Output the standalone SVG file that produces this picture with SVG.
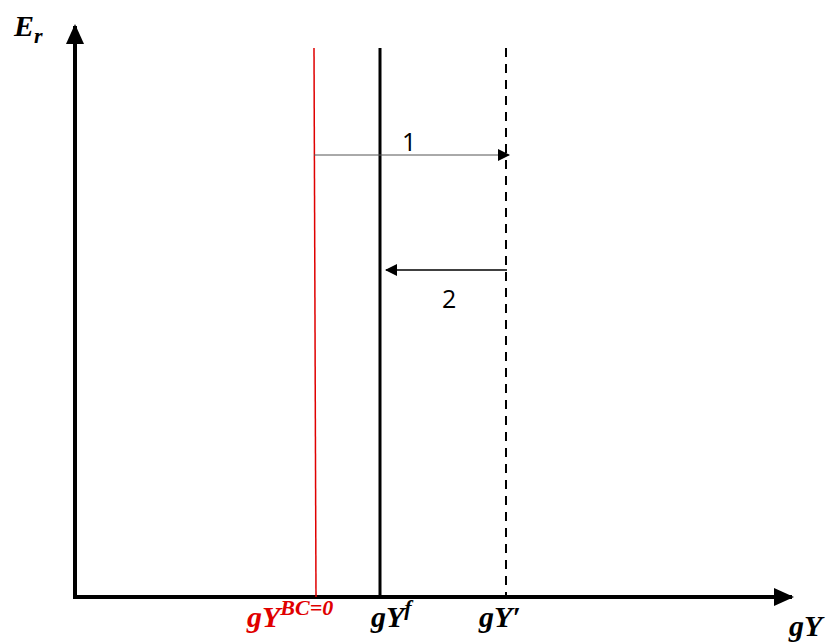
<svg xmlns="http://www.w3.org/2000/svg" width="833" height="644" viewBox="0 0 833 644">
<style>
.m{font-family:"Liberation Serif","DejaVu Serif",serif;font-style:italic;font-weight:bold;font-size:30px}
.n{font-family:"Open Sans","Liberation Sans",sans-serif;font-size:25px;fill:#000}
</style>
<defs>
<marker id="ah" markerWidth="12" markerHeight="12" refX="11" refY="6" orient="auto" markerUnits="userSpaceOnUse"><path d="M0,0 L12,6 L0,12 Z" fill="#000"/></marker>
<marker id="axh" markerWidth="20" markerHeight="18" refX="18" refY="9" orient="auto" markerUnits="userSpaceOnUse"><path d="M0,0 L20,9 L0,18 Z" fill="#000"/></marker>
</defs>
<rect width="833" height="644" fill="#fff"/>
<g id="axes">
<line x1="75" y1="599" x2="75" y2="26" stroke="#000" stroke-width="4" marker-end="url(#axh)"/>
<line x1="73" y1="597" x2="792" y2="597" stroke="#000" stroke-width="4" marker-end="url(#axh)"/>
</g>
<g id="curves">
<line id="red" x1="314" y1="48" x2="316" y2="597" stroke="#e00000" stroke-width="1.5"/>
<line id="black" x1="380" y1="48" x2="380" y2="597" stroke="#000" stroke-width="3"/>
<line id="dashed" x1="506" y1="48" x2="506" y2="597" stroke="#000" stroke-width="2" stroke-dasharray="9,7"/>
</g>
<g id="connectors">
<line x1="314" y1="155" x2="509" y2="155" stroke="#555" stroke-width="1" marker-end="url(#ah)"/>
<line x1="507" y1="270" x2="386" y2="270" stroke="#000" stroke-width="1.5" marker-end="url(#ah)"/>
</g>
<g id="labels">
<text class="n" x="402" y="151">1</text>
<text class="n" x="442" y="308">2</text>
<text class="m" x="14" y="36" font-size="32">E<tspan font-size="22" dy="7">r</tspan></text>
<text class="m" x="789" y="636">gY</text>
<text class="m" x="247" y="627" fill="#e00000">gY<tspan font-size="22" dy="-12">BC=0</tspan></text>
<text class="m" x="371" y="627">gY<tspan font-size="22" dy="-12">f</tspan></text>
<text class="m" x="479" y="627">gY′</text>
</g>
</svg>
